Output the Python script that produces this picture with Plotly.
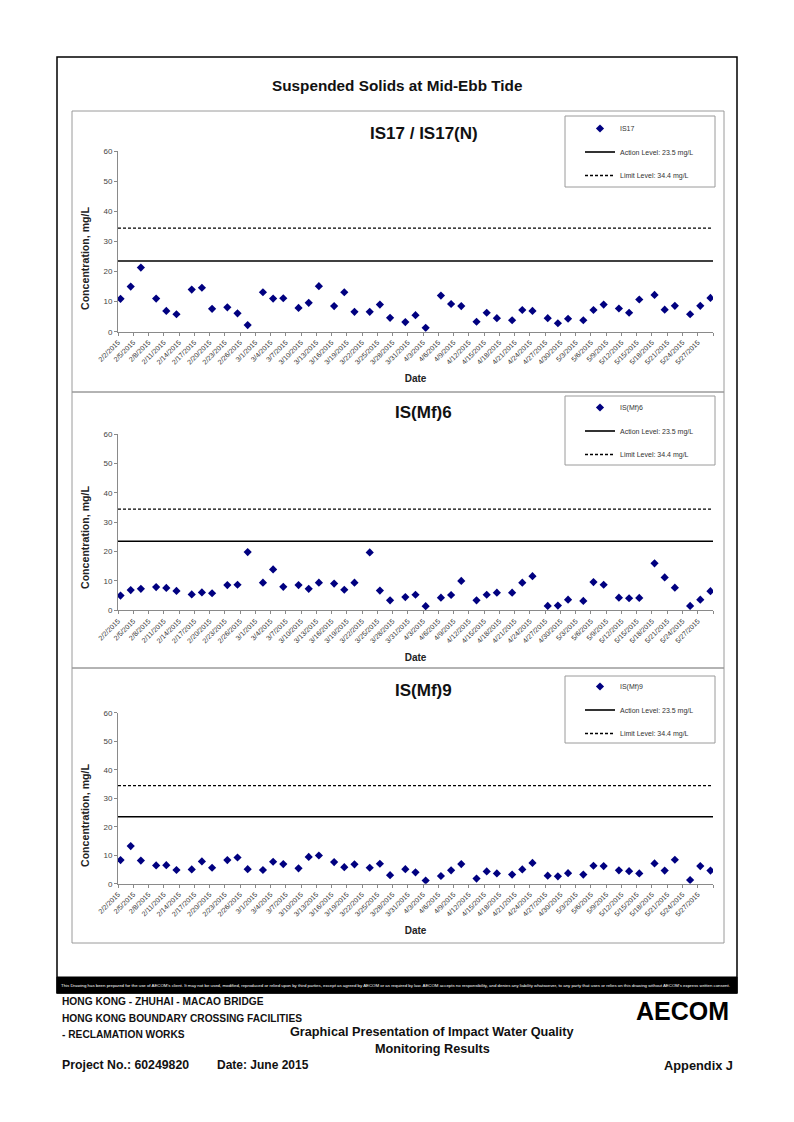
import plotly.graph_objects as go
import pandas as pd

W, H = 794, 1122

# ---------------- data ----------------
sample_dates = [
    "2015-02-02", "2015-02-04", "2015-02-06", "2015-02-09", "2015-02-11", "2015-02-13",
    "2015-02-16", "2015-02-18", "2015-02-20", "2015-02-23", "2015-02-25", "2015-02-27",
    "2015-03-02", "2015-03-04", "2015-03-06", "2015-03-09", "2015-03-11", "2015-03-13",
    "2015-03-16", "2015-03-18", "2015-03-20", "2015-03-23", "2015-03-25", "2015-03-27",
    "2015-03-30",
    "2015-04-01", "2015-04-03", "2015-04-06", "2015-04-08", "2015-04-10", "2015-04-13",
    "2015-04-15", "2015-04-17", "2015-04-20", "2015-04-22", "2015-04-24", "2015-04-27",
    "2015-04-29",
    "2015-05-01", "2015-05-04", "2015-05-06", "2015-05-08", "2015-05-11", "2015-05-13",
    "2015-05-15", "2015-05-18", "2015-05-20", "2015-05-22", "2015-05-25", "2015-05-27",
    "2015-05-29",
]

is17 = [
    10.9, 15.0, 21.3, 11.0, 6.9, 5.8, 14.0, 14.6, 7.6, 8.1, 6.1, 2.2,
    13.1, 11.0, 11.1, 7.9, 9.6, 15.1, 8.5, 13.1, 6.6, 6.6, 9.0, 4.6, 3.2,
    5.5, 1.3, 12.0, 9.2, 8.5, 3.3, 6.3, 4.5, 3.8, 7.2, 6.9, 4.5, 2.8,
    4.3, 3.8, 7.2, 9.0, 7.7, 6.3, 10.7, 12.2, 7.3, 8.6, 5.8, 8.6, 11.2,
]

ismf6 = [
    5.0, 6.9, 7.3, 7.9, 7.6, 6.6, 5.4, 6.1, 5.8, 8.6, 8.7, 19.8,
    9.4, 13.9, 8.0, 8.6, 7.3, 9.4, 9.1, 7.0, 9.4, 19.7, 6.7, 3.4, 4.5,
    5.3, 1.4, 4.3, 5.2, 10.0, 3.4, 5.3, 6.0, 6.0, 9.4, 11.6, 1.5, 1.6,
    3.6, 3.2, 9.6, 8.7, 4.3, 4.1, 4.2, 16.0, 11.2, 7.7, 1.5, 3.6, 6.5,
]

ismf9 = [
    8.3, 13.2, 8.1, 6.4, 6.5, 4.8, 5.0, 7.8, 5.6, 8.3, 9.2, 5.1,
    4.8, 7.7, 6.9, 5.4, 9.4, 9.9, 7.6, 5.8, 6.8, 5.6, 7.0, 3.0, 5.1,
    4.0, 1.1, 2.7, 4.7, 6.9, 1.8, 4.3, 3.6, 3.2, 5.0, 7.3, 2.8, 2.6,
    3.7, 3.2, 6.3, 6.2, 4.7, 4.4, 3.6, 7.1, 4.6, 8.4, 1.3, 6.2, 4.6,
]

station_names = ["IS17", "IS(Mf)6", "IS(Mf)9"]
panel_titles = ["IS17 / IS17(N)", "IS(Mf)6", "IS(Mf)9"]
action_level = 23.5
limit_level = 34.4
action_label = "Action Level: 23.5 mg/L"
limit_label = "Limit Level: 34.4 mg/L"
x_start, x_end = "2015-02-02", "2015-05-30"
y_ticks = [0, 10, 20, 30, 40, 50, 60]
y_title = "Concentration, mg/L"
x_title = "Date"

# ---------------- helpers ----------------
def px(x):
    return x / W

def py(y):
    return 1 - y / H

# date axis: each sample drawn in the middle of its day slot
x_vals = pd.to_datetime(pd.Series(sample_dates)) + pd.Timedelta(hours=12)
tick_dates = pd.date_range(x_start, x_end, freq="3D")
tick_text = [f"{d.month}/{d.day}/{d.year}" for d in tick_dates]
tick_text[-1] = ""

series = [is17, ismf6, ismf9]
# plot area pixel positions (y of value 0, y of value 60)
plot_rows = [(331.7, 151.0), (610.3, 434.0), (883.7, 712.7)]
legend_tops = [114, 393, 672]
box_rows = [(116, 187), (396, 465), (676, 743)]
title_ys = [133, 412, 690]
ytitle_ys = [258, 537, 815]
panel_rows = [(111, 392), (392, 668), (668, 943)]

MARKER = "#000080"
AXIS_C = "#8a8a8a"
FONT = "Liberation Sans, Arial, sans-serif"

fig = go.Figure()
layout = dict(
    width=W, height=H,
    margin=dict(l=0, r=0, t=0, b=0),
    paper_bgcolor="white", plot_bgcolor="white",
    font=dict(family=FONT, color="#222"),
    showlegend=True,
)

shapes = []
annotations = []


def note(text, x, y, size, xanchor="center", color="#111", family=None, angle=0):
    f = dict(size=size, color=color)
    if family:
        f["family"] = family
    annotations.append(dict(text=text, x=px(x), y=py(y), xref="paper", yref="paper",
                            xanchor=xanchor, yanchor="middle", showarrow=False, font=f,
                            textangle=angle))


for i in range(3):
    sfx = "" if i == 0 else str(i + 1)
    xa, ya = "x" + sfx, "y" + sfx
    leg = "legend" + sfx
    fig.add_trace(go.Scatter(
        x=x_vals, y=series[i], mode="markers", name=station_names[i],
        marker=dict(symbol="diamond", size=6.3, color=MARKER),
        xaxis=xa, yaxis=ya, legend=leg, legendgroup=f"s{i}",
    ))
    fig.add_trace(go.Scatter(
        x=[x_start, x_end], y=[action_level, action_level], mode="lines",
        name=action_label, line=dict(color="black", width=1.6),
        xaxis=xa, yaxis=ya, legend=leg, legendgroup=f"a{i}",
    ))
    fig.add_trace(go.Scatter(
        x=[x_start, x_end], y=[limit_level, limit_level], mode="lines",
        name=limit_label, line=dict(color="black", width=1.3, dash="3px,2px"),
        xaxis=xa, yaxis=ya, legend=leg, legendgroup=f"l{i}",
    ))

    y0, y60 = plot_rows[i]
    layout["xaxis" + sfx] = dict(
        domain=[px(118), px(713)], anchor=ya, type="date",
        range=[x_start, x_end],
        tickmode="array", tickvals=list(tick_dates), ticktext=tick_text,
        tickangle=-45, tickfont=dict(size=7, color="#333"),
        ticks="outside", ticklen=3, tickcolor=AXIS_C,
        showline=True, linecolor=AXIS_C, linewidth=1,
        showgrid=False, zeroline=False,
        title=dict(text=f"<b>{x_title}</b>", font=dict(size=10, color="#222"), standoff=10),
        automargin=False,
    )
    layout["yaxis" + sfx] = dict(
        domain=[py(y0), py(y60)], anchor=xa,
        range=[0, 60], tickmode="array", tickvals=y_ticks,
        tickfont=dict(size=8, color="#444"),
        ticks="outside", ticklen=3, tickcolor=AXIS_C,
        showline=True, linecolor=AXIS_C, linewidth=1,
        showgrid=False, zeroline=False,
        automargin=False,
    )
    layout[leg] = dict(
        x=px(580), y=py(legend_tops[i]), xanchor="left", yanchor="top",
        bgcolor="rgba(0,0,0,0)", borderwidth=0,
        font=dict(size=7, color="#333"), tracegroupgap=4.5, itemwidth=30,
    )

    # panel frame and legend box
    p0, p1 = panel_rows[i]
    shapes.append(dict(type="rect", xref="paper", yref="paper",
                       x0=px(72), x1=px(724), y0=py(p1), y1=py(p0),
                       line=dict(color="#9a9a9a", width=1)))
    b0, b1 = box_rows[i]
    shapes.append(dict(type="rect", xref="paper", yref="paper",
                       x0=px(565), x1=px(715), y0=py(b1), y1=py(b0),
                       line=dict(color="#9a9a9a", width=1)))
    note(f"<b>{panel_titles[i]}</b>", 424, title_ys[i], 17)
    note(f"<b>{y_title}</b>", 85, ytitle_ys[i], 10.6, color="#222", angle=-90)

# outer frame and black disclaimer band
shapes.append(dict(type="rect", xref="paper", yref="paper",
                   x0=px(57), x1=px(737), y0=py(993), y1=py(57),
                   line=dict(color="black", width=1.5)))
shapes.append(dict(type="rect", xref="paper", yref="paper",
                   x0=px(57), x1=px(737), y0=py(993), y1=py(977),
                   line=dict(color="black", width=1), fillcolor="black"))

note("<b>Suspended Solids at Mid-Ebb Tide</b>", 397, 85, 15.3)

disclaimer = ("This Drawing has been prepared for the use of AECOM's client. It may not be used, modified, "
              "reproduced or relied upon by third parties, except as agreed by AECOM or as required by law. "
              "AECOM accepts no responsibility, and denies any liability whatsoever, to any party that uses "
              "or relies on this drawing without AECOM's express written consent.")
note(disclaimer, 59, 985, 4.35, xanchor="left", color="white",
     family="Liberation Sans Narrow, Liberation Sans, Arial")

note("<b>HONG KONG - ZHUHAI - MACAO BRIDGE</b>", 60, 1001, 10.2, xanchor="left")
note("<b>HONG KONG BOUNDARY CROSSING FACILITIES</b>", 60, 1018, 10.2, xanchor="left")
note("<b>- RECLAMATION WORKS</b>", 60, 1034, 10.2, xanchor="left")
note("<b>Graphical Presentation of Impact Water Quality</b>", 432, 1032, 12.7)
note("<b>Monitoring Results</b>", 432, 1049, 12.7)
note("<b>Project No.: 60249820</b>", 60, 1065, 12.3, xanchor="left")
note("<b>Date: June 2015</b>", 215, 1065, 12, xanchor="left")
note("<b>Appendix J</b>", 735, 1065, 12.8, xanchor="right")
note("<b>AECOM</b>", 731, 1011, 25, xanchor="right", color="black")

layout["shapes"] = shapes
layout["annotations"] = annotations
fig.update_layout(**layout)

fig.write_html("out.html", config={"displayModeBar": False},
               post_script="document.body.style.margin='0px';")
